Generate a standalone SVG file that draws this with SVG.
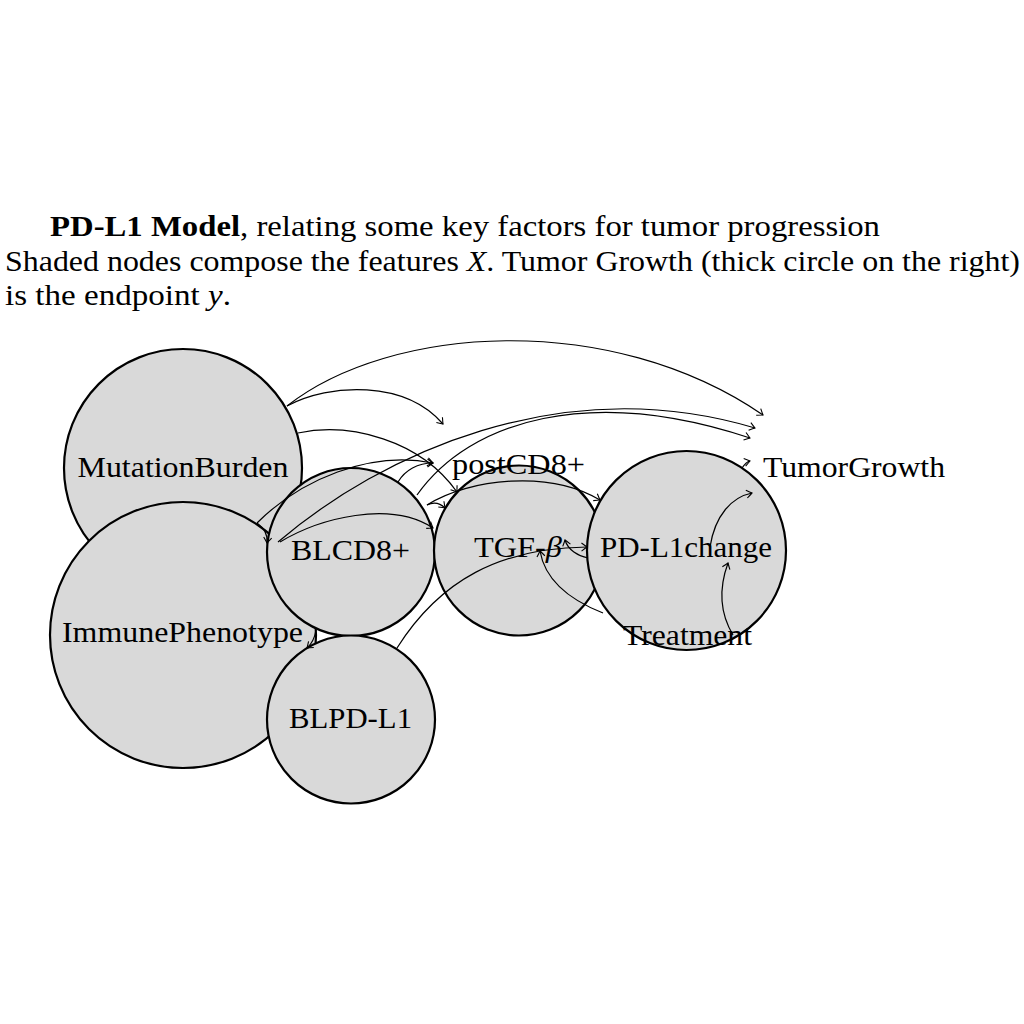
<svg xmlns="http://www.w3.org/2000/svg" width="1024" height="1024" viewBox="0 0 1024 1024">
<style>
.node{fill:#d9d9d9;stroke:#000;stroke-width:2.2}
.lbl{font-family:"Liberation Serif","Times New Roman",serif;font-size:29px;fill:#000;text-anchor:middle}
.ttl{font-family:"Liberation Serif","Times New Roman",serif;font-size:28.5px;fill:#000}
.edge{fill:none;stroke:#000;stroke-width:1.2;marker-end:url(#arr)}
</style>
<defs>
<marker id="arr" markerUnits="userSpaceOnUse" markerWidth="14" markerHeight="14" viewBox="-7 -7 14 14" refX="0" refY="0" orient="auto">
<path d="M-5.5,-4 Q-1.5,-1 0,0 Q-1.5,1 -5.5,4" fill="none" stroke="#000" stroke-width="1.1"/>
</marker>
</defs>
<rect width="1024" height="1024" fill="#fff"/>
<g id="title">
<text class="ttl" x="50" y="236" textLength="830" lengthAdjust="spacingAndGlyphs"><tspan font-weight="bold">PD-L1 Model</tspan>, relating some key factors for tumor progression</text>
<text class="ttl" x="5" y="271" textLength="1015" lengthAdjust="spacingAndGlyphs">Shaded nodes compose the features <tspan font-style="italic">X</tspan>. Tumor Growth (thick circle on the right)</text>
<text class="ttl" x="5" y="305" textLength="226" lengthAdjust="spacingAndGlyphs">is the endpoint <tspan font-style="italic">y</tspan>.</text>
</g>
<g id="MutationBurden"><circle class="node" cx="183" cy="468" r="119"/><text class="lbl" x="183" y="477" textLength="211" lengthAdjust="spacingAndGlyphs">MutationBurden</text></g>
<g id="ImmunePhenotype"><circle class="node" cx="183" cy="635" r="133"/><text class="lbl" x="182.5" y="642" textLength="241" lengthAdjust="spacingAndGlyphs">ImmunePhenotype</text></g>
<g id="BLCD8"><circle class="node" cx="351" cy="552" r="84"/><text class="lbl" x="350.5" y="560" textLength="119" lengthAdjust="spacingAndGlyphs">BLCD8+</text></g>
<g id="BLPDL1"><circle class="node" cx="351" cy="719.5" r="84"/><text class="lbl" x="350.5" y="728" textLength="123" lengthAdjust="spacingAndGlyphs">BLPD-L1</text></g>
<g id="TGFb"><circle class="node" cx="519" cy="550.5" r="85"/><text class="lbl" x="518" y="557" textLength="88" lengthAdjust="spacingAndGlyphs">TGF-<tspan font-style="italic">β</tspan></text></g>
<g id="PDL1change"><circle class="node" cx="686.5" cy="550.5" r="99.5"/><text class="lbl" x="686" y="557" textLength="172" lengthAdjust="spacingAndGlyphs">PD-L1change</text></g>
<g id="postCD8"><text class="lbl" x="518.5" y="474" textLength="133" lengthAdjust="spacingAndGlyphs">postCD8+</text></g>
<g id="TumorGrowth"><text class="lbl" x="854" y="477" textLength="182" lengthAdjust="spacingAndGlyphs">TumorGrowth</text></g>
<g id="Treatment"><text class="lbl" x="687.5" y="645" textLength="129" lengthAdjust="spacingAndGlyphs">Treatment</text></g>
<g id="connectors">
<path class="edge" d="M287,406 C390,325 610,310 763,415"/>
<path class="edge" d="M287,406 C330,383 405,380 443,424"/>
<path class="edge" d="M298,433 C350,422 420,440 457,492"/>
<path class="edge" d="M257,523 C300,480 370,450 433,463"/>
<path class="edge" d="M257,523 C264,528 268,535 267,543"/>
<path class="edge" d="M278,542 C380,455 560,370 755,428"/>
<path class="edge" d="M280,542 C320,518 390,500 433,528"/>
<path class="edge" d="M417,495 C470,420 590,385 750,438"/>
<path class="edge" d="M398,482 C405,470 418,463 433,463"/>
<path class="edge" d="M427,505 Q437,500 445,508"/>
<path class="edge" d="M427,505 C470,478 550,470 600,500"/>
<path class="edge" d="M316,630 Q314,642 307,648"/>
<path class="edge" d="M397,648 C440,580 500,548 587,547"/>
<path class="edge" d="M588,558 C578,556 568,550 565,540"/>
<path class="edge" d="M603,613 C570,600 545,580 540,551"/>
<path class="edge" d="M733,635 C718,610 720,585 728,563"/>
<path class="edge" d="M710,547 C715,515 732,497 752,493"/>
<path class="edge" d="M742,468 Q746,462 750,461"/>
</g>
</svg>
